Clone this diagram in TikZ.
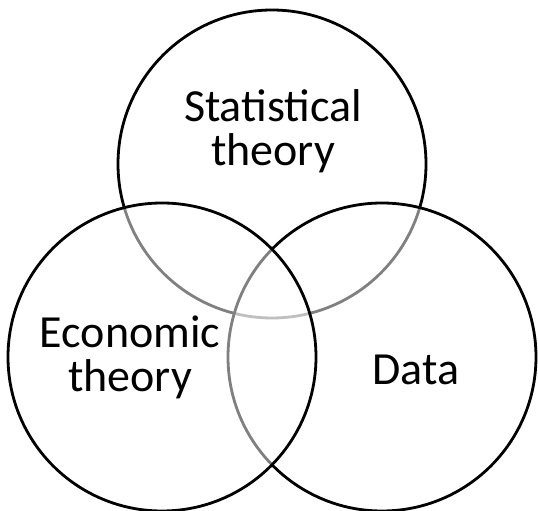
\documentclass[tikz,border=0pt]{standalone}
\usepackage{fontspec}
\setmainfont{Carlito}
\begin{document}
\begin{tikzpicture}[x=1pt,y=1pt,
  venn/.style={circle, draw=black, line width=2.8pt, fill=white, fill opacity=0.5, inner sep=0pt, minimum size=308pt},
  lbl/.style={align=center, anchor=base, inner sep=0pt, font=\fontsize{46}{44}\selectfont}]
\useasboundingbox (0,0) rectangle (538,511);
\node[venn] (stat) at (272,347) {};
\node[venn] (data) at (382,154) {};
\node[venn] (econ) at (162,154) {};
\node[lbl] (statl) at (273,345) {Statistical\\theory};
\node[lbl] (econl) at (130,119) {Economic\\theory};
\node[lbl] (datal) at (416,126) {Data};
\end{tikzpicture}
\end{document}
